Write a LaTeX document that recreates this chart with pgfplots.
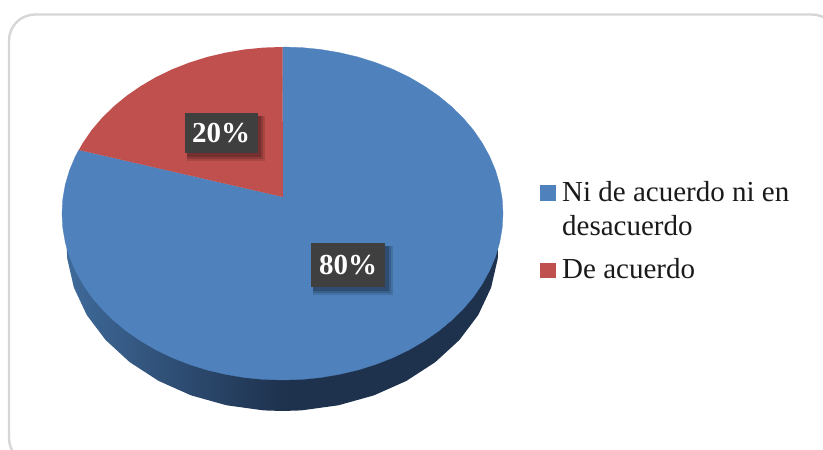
\documentclass[border=0pt]{standalone}
\usepackage{fontspec}
\setmainfont{Liberation Serif}
\usepackage{pgfplots}
\pgfplotsset{compat=1.18}
\definecolor{pieblue}{HTML}{4F81BD}
\definecolor{piered}{HTML}{C0504D}
\definecolor{wallL}{HTML}{3F6A9A}
\definecolor{wallD}{HTML}{1E324E}
\definecolor{boxc}{HTML}{3F3F3F}
\definecolor{framec}{HTML}{D6D6D6}
\definecolor{legtext}{HTML}{1A1A1A}
\begin{document}
\begin{tikzpicture}
\useasboundingbox (0,0) rectangle (823pt,450pt);
\begin{axis}[
  at={(0,0)}, anchor=south west,
  width=823pt, height=450pt, scale only axis, hide axis,
  xmin=0, xmax=823, ymin=0, ymax=450, y dir=reverse
]
% frame
\draw[framec, line width=2.4pt, rounded corners=26pt] (axis cs:9,14.5) rectangle (axis cs:838,464);
% side wall
\addplot[draw=none, left color=wallL, right color=wallD, middle color=wallD] coordinates {
 (497.7,259) (491.1,287.6) (478.3,314.9) (459.4,340) (435.2,362.2) (406.4,380.9) (373.8,395.4) (338.4,405.3) (301.3,410.4)
 (282.5,411)
 (263.7,410.4) (226.6,405.3) (191.2,395.4) (158.6,380.9) (129.8,362.2) (105.6,340) (86.7,314.9) (73.9,287.6) (67.3,259)
 (66.5,244.5) (282.5,213.5) (498.5,244.5)
} -- cycle;
% 80 % slice
\addplot[draw=pieblue, line width=0.3pt, fill=pieblue] coordinates {
 (283,197) (282.5,47) (301.7,47.6) (320.8,49.5) (339.6,52.7) (357.9,57) (375.7,62.6) (392.8,69.3) (409,77.1) (424.2,86)
 (438.4,95.8) (451.4,106.5) (463.1,118) (473.5,130.2) (482.3,143.1) (489.7,156.6) (495.5,170.4) (499.7,184.6) (502.2,199) (503,213.5)
 (502.2,228) (499.7,242.4) (495.5,256.6) (489.7,270.4) (482.3,283.9) (473.5,296.8) (463.1,309) (451.4,320.5) (438.4,331.2)
 (424.2,341) (409,349.9) (392.8,357.7) (375.7,364.4) (357.9,370) (339.6,374.3) (320.8,377.5) (301.7,379.4) (282.5,380)
 (263.3,379.4) (244.2,377.5) (225.4,374.3) (207.1,370) (189.3,364.4) (172.2,357.7) (156,349.9) (140.8,341) (126.6,331.2)
 (113.6,320.5) (101.9,309) (91.5,296.8) (82.7,283.9) (75.3,270.4) (69.5,256.6) (65.3,242.4) (62.8,228) (62,213.5)
 (62.8,199) (65.3,184.6) (69.5,170.4) (75.3,156.6) (78.8,150)
} -- cycle;
% 20 % slice
\addplot[draw=none, fill=piered] coordinates {
 (283,197) (78.8,150) (82.7,143.1) (91.5,130.2) (101.9,118) (113.6,106.5) (126.6,95.8) (140.8,86) (156,77.1) (172.2,69.3)
 (189.3,62.6) (207.1,57) (225.4,52.7) (244.2,49.5) (263.3,47.6) (282.5,47)
} -- cycle;
% data label shadows
\fill[black, opacity=0.13] (axis cs:187,116) rectangle (axis cs:265,161);
\fill[black, opacity=0.15] (axis cs:187,116) rectangle (axis cs:263,159);
\fill[black, opacity=0.18] (axis cs:187,116) rectangle (axis cs:261,157);
\fill[black, opacity=0.13] (axis cs:313,246) rectangle (axis cs:393,295);
\fill[black, opacity=0.15] (axis cs:313,246) rectangle (axis cs:391,293);
\fill[black, opacity=0.18] (axis cs:313,246) rectangle (axis cs:389,291);
% data labels
\node[fill=boxc, text=white, minimum width=73pt, minimum height=40pt, inner sep=0pt,
      font=\fontsize{29}{30}\selectfont\bfseries] at (axis cs:221,133) {20\%};
\node[fill=boxc, text=white, minimum width=74pt, minimum height=44pt, inner sep=0pt,
      font=\fontsize{29}{30}\selectfont\bfseries] at (axis cs:348,265) {80\%};
% legend
\addplot[only marks, color=pieblue, mark=square*, mark size=7.2pt, mark options={draw=pieblue, fill=pieblue}] coordinates {(547.5,192.5)};
\addplot[only marks, color=piered, mark=square*, mark size=7.2pt, mark options={draw=piered, fill=piered}] coordinates {(547.5,270)};
\node[anchor=base west, inner sep=0pt, text=legtext, font=\fontsize{29}{30}\selectfont] at (axis cs:562,201.5) {Ni de acuerdo ni en};
\node[anchor=base west, inner sep=0pt, text=legtext, font=\fontsize{29}{30}\selectfont] at (axis cs:562,235) {desacuerdo};
\node[anchor=base west, inner sep=0pt, text=legtext, font=\fontsize{29}{30}\selectfont] at (axis cs:562,278) {De acuerdo};
\end{axis}
\end{tikzpicture}
\end{document}
